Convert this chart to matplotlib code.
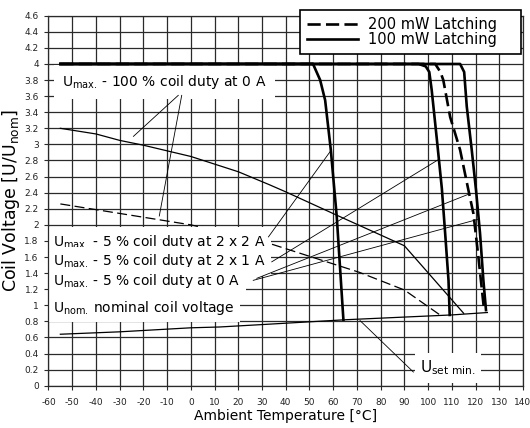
import matplotlib
matplotlib.use('Agg')
import matplotlib.pyplot as plt

# coil voltage [U/Unom] against ambient temperature [°C]
temp_2x2a = [-55, 51.5, 54.5, 56.6, 59, 61.5, 64.3]
volt_2x2a = [4.0, 4.0, 3.8, 3.55, 2.93, 2.1, 0.82]

temp_2x1a = [-55, 96, 99, 100.5, 101.5, 103.7, 105.8, 107.2, 108.6, 109.1]
volt_2x1a = [4.0, 4.0, 3.97, 3.9, 3.68, 3.06, 2.45, 1.89, 1.31, 0.88]

temp_0a_200 = [-55, 103, 105.2, 106.4, 109.3, 113.5, 117, 119.1, 121.2, 123.6]
volt_0a_200 = [4.0, 4.0, 3.9, 3.8, 3.34, 2.93, 2.43, 2.14, 1.6, 0.94]

temp_0a_100 = [-55, 113.5, 115.2, 116.3, 118.4, 120.2, 121.9, 123.3, 124.4]
volt_0a_100 = [4.0, 4.0, 3.9, 3.47, 2.93, 2.43, 1.89, 1.31, 0.94]

temp_cont_100 = [-55, -40, -30, -20, 0, 20, 33, 40, 60, 72, 90, 115]
volt_cont_100 = [3.2, 3.13, 3.05, 2.99, 2.85, 2.66, 2.5, 2.41, 2.14, 1.98, 1.74, 0.9]

temp_cont_200 = [-55, 0, 33, 71, 90, 105]
volt_cont_200 = [2.26, 2.0, 1.77, 1.41, 1.19, 0.88]

temp_set = [-55, -30, 0, 12, 30, 65, 110, 125]
volt_set = [0.64, 0.67, 0.72, 0.73, 0.76, 0.82, 0.88, 0.91]

x_ticks = list(range(-60, 141, 10))
y_ticks = [round(0.2 * i, 1) for i in range(24)]
legend_labels = ['200 mW Latching', '100 mW Latching']

plt.rcParams['font.family'] = ['DejaVu Sans']
plt.rcParams['axes.unicode_minus'] = False

fig = plt.figure(figsize=(5.3, 4.28), dpi=100)
ax = fig.add_axes([0.0915, 0.0988, 0.8953, 0.8645])

grid_c = '#2a2a2a'
ax.set_xlim(-60, 140)
ax.set_ylim(0, 4.6)
ax.set_xticks(x_ticks)
ax.set_yticks(y_ticks)
ax.set_xticklabels([str(t) for t in x_ticks])
ax.set_yticklabels(['%g' % v for v in y_ticks])
ax.tick_params(axis='both', direction='out', length=3, width=0.8, color=grid_c,
               labelsize=6.5, labelcolor='#222222')
ax.tick_params(axis='x', pad=5.5)
ax.tick_params(axis='y', pad=4)
ax.set_axisbelow(True)
ax.grid(True, color=grid_c, lw=0.9)
for sp in ax.spines.values():
    sp.set_color(grid_c)
    sp.set_linewidth(0.9)
    sp.set_zorder(6)

# thin curves (100 % duty) and Uset
ax.plot(temp_cont_100, volt_cont_100, color='black', lw=0.9, zorder=2)
ax.plot(temp_cont_200, volt_cont_200, color='black', lw=0.9, ls=(0, (8, 3.5)), zorder=2)
ax.plot(temp_set, volt_set, color='black', lw=0.9, zorder=2)

# thick curves (5 % duty)
thick = 1.9
ax.plot(temp_2x2a, volt_2x2a, color='black', lw=thick, zorder=4)
ax.plot(temp_2x1a, volt_2x1a, color='black', lw=thick, zorder=4)
l200, = ax.plot(temp_0a_200, volt_0a_200, color='black', lw=thick, ls=(0, (5, 2)), zorder=4)
l100, = ax.plot(temp_0a_100, volt_0a_100, color='black', lw=thick, zorder=4)

umax = r'U$_{\mathrm{max.}}$' + '\u2009- '
box = dict(fc='white', ec='none', pad=4)
fs = 10
ax.text(-54.3, 3.776, umax + '100 % coil duty at 0 A', fontsize=fs,
        ha='left', va='center', bbox=dict(fc='white', ec='none', pad=6), zorder=3)
ax.text(-58, 1.79, umax + '5 % coil duty at 2 x 2 A', fontsize=fs,
        ha='left', va='center', bbox=box, zorder=3)
ax.text(-58, 1.545, umax + '5 % coil duty at 2 x 1 A', fontsize=fs,
        ha='left', va='center', bbox=box, zorder=3)
ax.text(-58, 1.30, umax + '5 % coil duty at 0 A', fontsize=fs,
        ha='left', va='center', bbox=box, zorder=3)
ax.text(-58, 0.97, r'U$_{\mathrm{nom.}}$' + '\u2009nominal coil voltage', fontsize=fs,
        ha='left', va='center', bbox=box, zorder=3)
ax.text(96.6, 0.22, r'U$_{\mathrm{set\ min.}}$', fontsize=11,
        ha='left', va='center', bbox=box, zorder=3)

# leader lines
leader = dict(color='black', lw=0.6, zorder=5)
ax.plot([-5.3, -24.2], [3.61, 3.10], **leader)
ax.plot([-3.85, -13.3], [3.61, 2.11], **leader)
ax.plot([32.7, 58.7], [1.85, 2.91], **leader)
ax.plot([34.1, 104.3], [1.54, 2.81], **leader)
ax.plot([27.8, 117.0], [1.335, 2.38], **leader)
ax.plot([26.3, 121.2], [1.31, 2.07], **leader)
ax.plot([93.8, 71.3], [0.17, 0.81], **leader)

leg = ax.legend([l200, l100], legend_labels, loc='upper left', mode='expand',
                bbox_to_anchor=(0.530, 0.898, 0.466, 0.117), borderaxespad=0,
                fontsize=10.5, handlelength=3.5, handletextpad=0.7, labelspacing=0.05,
                borderpad=0.45, fancybox=False, framealpha=1, edgecolor='black')
leg.get_frame().set_linewidth(1.2)
leg.set_zorder(7)

ax.set_xlabel('Ambient Temperature [°C]', fontsize=10, labelpad=2)
ax.set_ylabel(r'Coil Voltage [U/U$_{\mathrm{nom}}$]', fontsize=12.5, labelpad=2)

fig.savefig('out.png', dpi=100)
